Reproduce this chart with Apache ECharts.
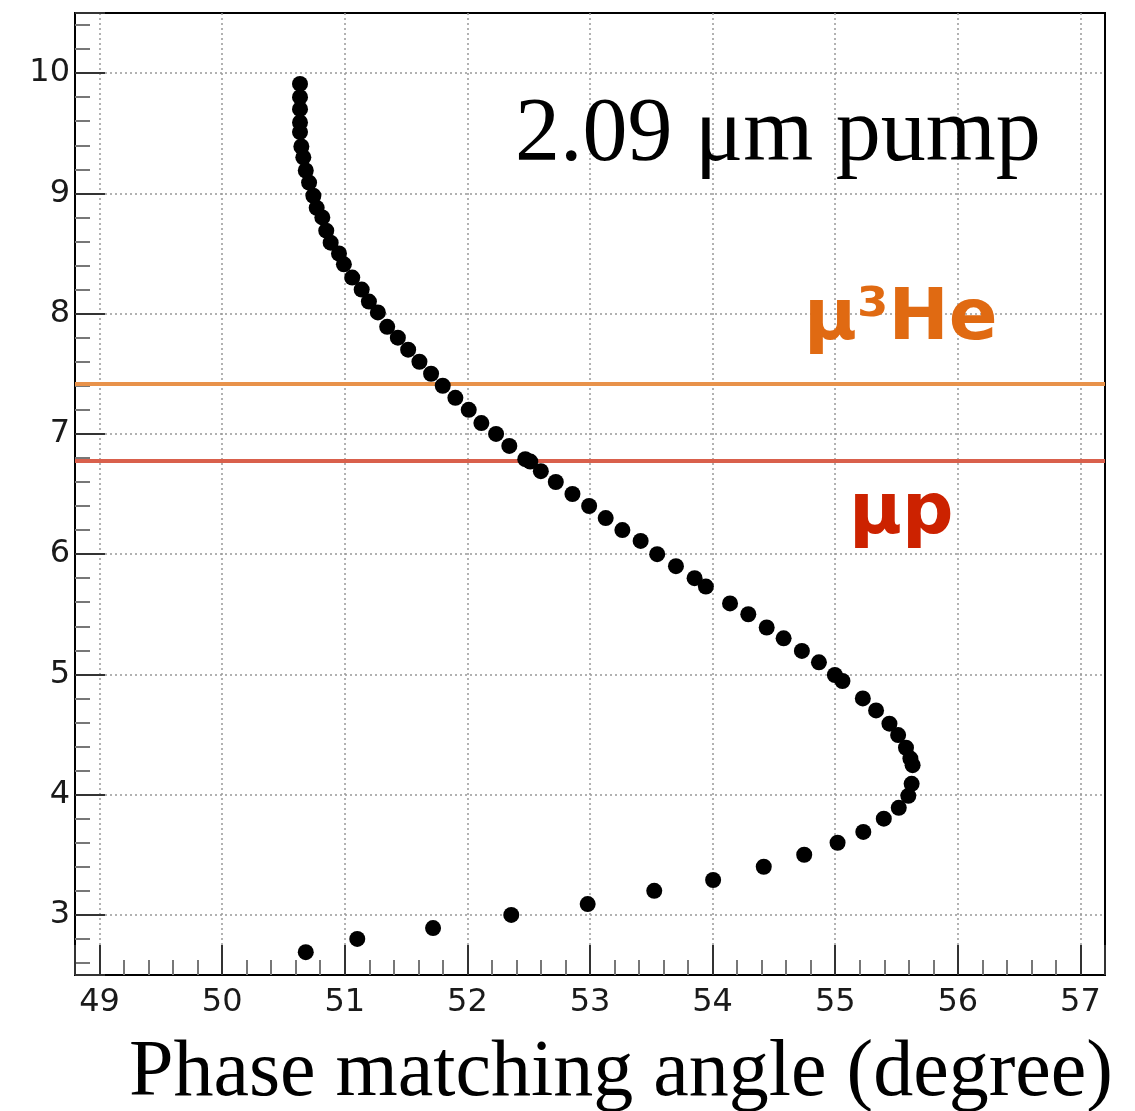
<!DOCTYPE html>
<html>
<head>
<meta charset="utf-8">
<script src="https://cdn.jsdelivr.net/npm/echarts@6/dist/echarts.min.js"></script>
<style>
html,body{margin:0;padding:0;background:#fff;}
#chart{width:1135px;height:1111px;}
</style>
</head>
<body>
<div id="chart"></div>
<script>
// Phase matching angle (degree)
const angleDeg = [50.635,50.635,50.635,50.635,50.635,50.646,50.662,50.682,50.709,50.744,50.771,50.817,50.849,50.885,50.953,50.993,51.061,51.138,51.197,51.270,51.346,51.433,51.517,51.609,51.704,51.799,51.902,52.011,52.114,52.234,52.342,52.472,52.513,52.599,52.721,52.857,52.993,53.128,53.264,53.413,53.548,53.701,53.853,53.945,54.142,54.291,54.441,54.579,54.728,54.867,54.997,55.059,55.225,55.333,55.442,55.513,55.577,55.613,55.631,55.623,55.596,55.518,55.396,55.229,55.019,54.747,54.417,54.004,53.524,52.981,52.358,51.720,51.102,50.682];
// Wavelength values (vertical axis)
const wavelength = [9.91,9.80,9.70,9.59,9.51,9.39,9.30,9.19,9.09,8.98,8.88,8.80,8.69,8.59,8.50,8.41,8.30,8.20,8.10,8.01,7.89,7.80,7.70,7.60,7.50,7.40,7.30,7.20,7.09,7.00,6.90,6.79,6.77,6.69,6.60,6.50,6.40,6.30,6.20,6.11,6.00,5.90,5.80,5.73,5.59,5.50,5.39,5.30,5.195,5.10,4.995,4.945,4.80,4.70,4.59,4.495,4.39,4.30,4.245,4.09,3.99,3.89,3.80,3.69,3.60,3.50,3.40,3.29,3.20,3.09,3.00,2.89,2.80,2.69];
// Reference lines
const lineNames = ['\u03bc\u00b3He', '\u03bcp'];
const lineValues = [7.425, 6.783];
const lineColors = ['#E8924A', '#D9604C'];
const textColors = ['#E06A12', '#CC2200'];
const xRange = [48.8, 57.2];
const yRange = [2.5, 10.5];

const points = angleDeg.map((a, i) => [a, wavelength[i]]);

const chart = echarts.init(document.getElementById('chart'), null, {renderer: 'canvas'});
const intFmt = v => (Math.abs(v - Math.round(v)) < 1e-6 ? String(Math.round(v)) : '');

const common = {
  type: 'value', splitNumber: 8,
  axisLine: {show: true, onZero: false, lineStyle: {color: '#000', width: 2}},
  axisTick: {show: true, inside: true, length: 30, lineStyle: {color: '#333', width: 2}},
  minorTick: {show: true, splitNumber: 5, length: 15, lineStyle: {color: '#777', width: 2}},
  splitLine: {show: true, showMinLine: false, showMaxLine: false, lineStyle: {color: '#999', width: 1.5, type: [2, 3]}}
};

chart.setOption({
  animation: false,
  backgroundColor: '#fff',
  grid: {left: 75, right: 30, top: 13, bottom: 136, show: true, borderColor: '#000', borderWidth: 2, backgroundColor: 'transparent'},
  xAxis: Object.assign({}, common, {
    min: xRange[0], max: xRange[1],
    axisLabel: {formatter: intFmt, fontFamily: 'DejaVu Sans', fontSize: 32, color: '#1a1a1a', margin: 12}
  }),
  yAxis: Object.assign({}, common, {
    min: yRange[0], max: yRange[1],
    axisLabel: {formatter: intFmt, fontFamily: 'DejaVu Sans', fontSize: 32, color: '#1a1a1a', margin: 5}
  }),
  series: [
    {
      type: 'scatter', data: points, symbol: 'circle', symbolSize: 16,
      itemStyle: {color: '#000', opacity: 1}, z: 5,
      markLine: {
        silent: true, symbol: 'none', label: {show: false},
        data: lineValues.map((v, i) => ({yAxis: v, lineStyle: {color: lineColors[i], width: 4, type: 'solid', opacity: 1}}))
      }
    }
  ],
  graphic: [
    {type: 'text', left: 515, top: 91, z: 10, style: {text: '2.09 \u03bcm pump', font: '90px "Liberation Serif"', fill: '#000'}},
    {type: 'text', left: 804, top: 284, z: 10, style: {text: lineNames[0], font: 'bold 72px "DejaVu Sans"', fill: textColors[0]}},
    {type: 'text', left: 849, top: 478, z: 10, style: {text: lineNames[1], font: 'bold 72px "DejaVu Sans"', fill: textColors[1]}},
    {type: 'text', right: 22, top: 1034, z: 10, style: {text: 'Phase matching angle (degree)', font: '80px "Liberation Serif"', fill: '#000'}}
  ]
});
</script>
</body>
</html>
